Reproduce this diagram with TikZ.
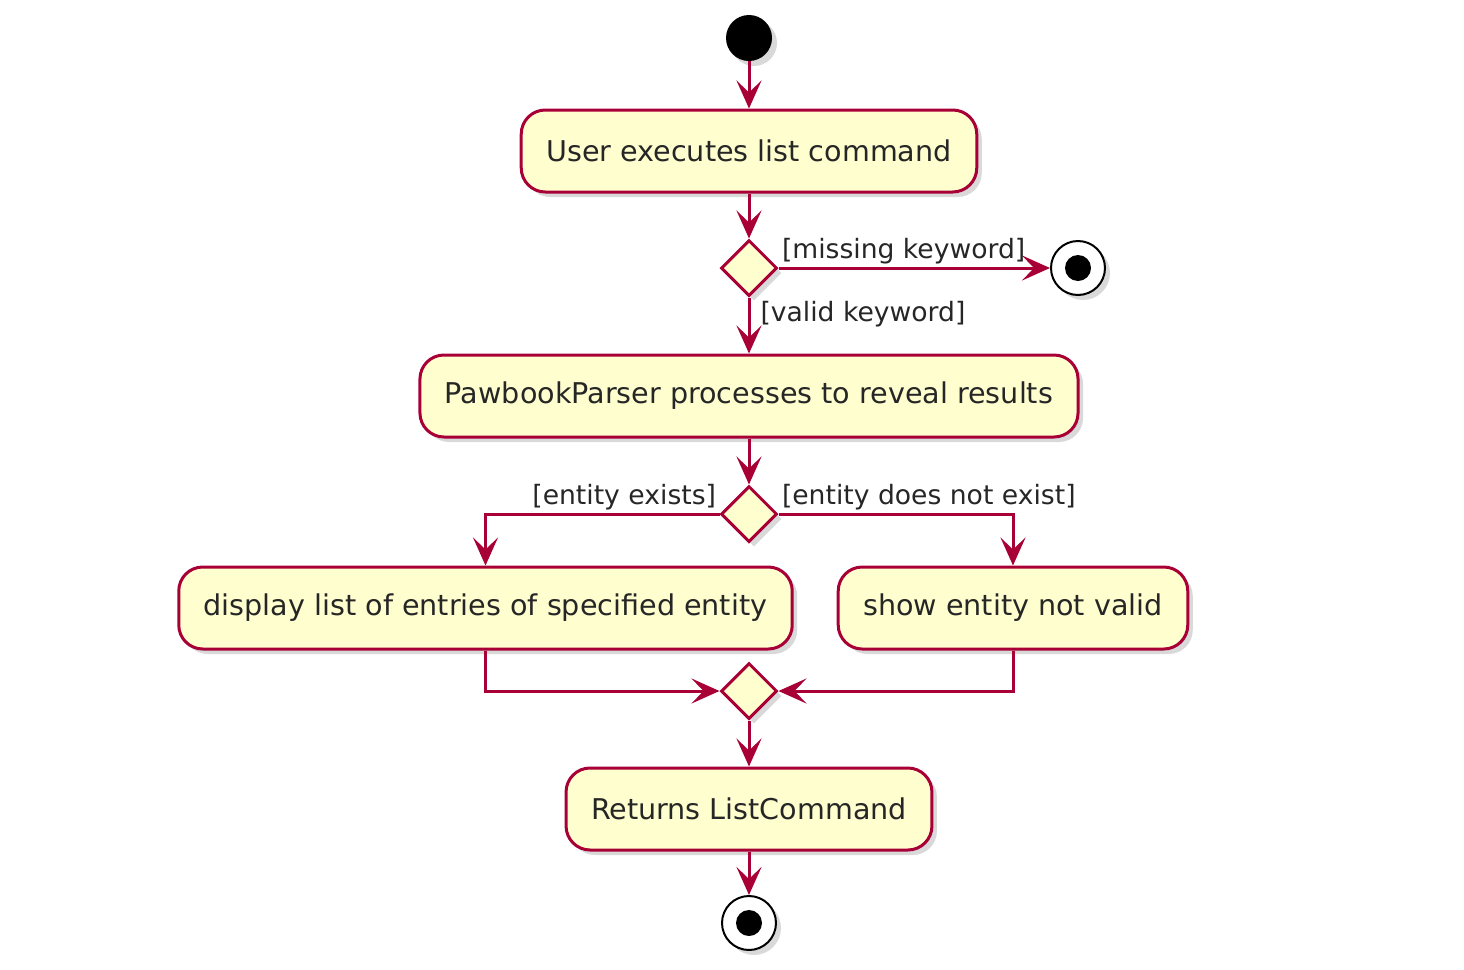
\documentclass[tikz,border=0pt]{standalone}
\usepackage{fontspec}
\setmainfont{DejaVu Sans}
\usepackage{xcolor}
\usetikzlibrary{shapes.geometric, positioning, arrows.meta, shadows}

\definecolor{umlred}{HTML}{A80036}
\definecolor{umlfill}{HTML}{FEFECE}

\begin{document}
\begin{tikzpicture}[x=0.5pt, y=-0.5pt,
        shade/.style={drop shadow={shadow xshift=2.5pt, shadow yshift=-2.5pt, opacity=0.3}},
        action/.style={draw=umlred, fill=umlfill, rounded corners=12pt, line width=1.5pt, minimum height=41pt, inner xsep=12.5pt, font=\fontsize{14.3}{17}\selectfont, text=black!85, shade},
        decision/.style={diamond, draw=umlred, fill=umlfill, line width=1.5pt, minimum width=28pt, minimum height=28pt, inner sep=0pt, shade},
        startstate/.style={circle, fill=black, minimum size=23pt, inner sep=0pt, shade},
        endstate/.style={circle, draw=black, fill=white, line width=1pt, minimum size=27pt, inner sep=0pt, shade, path picture={\fill[black] (path picture bounding box.center) circle (6.5pt);}},
        flow/.style={draw=umlred, line width=1.5pt, -{Stealth[length=14pt, width=12.5pt, inset=6pt]}},
        guard/.style={font=\fontsize{13.3}{16}\selectfont, text=black!85, inner sep=1pt}]
        \useasboundingbox (0, 0) rectangle (1464, 970);

        \node[startstate] (start) at (749, 38) {};
        \node[action] (user) at (749, 151) {User executes list command};
        \node[decision] (keyword) at (749, 268) {};
        \node[endstate] (abort) at (1078, 268) {};
        \node[action] (parser) at (749, 396) {PawbookParser processes to reveal results};
        \node[decision] (entity) at (749, 514) {};
        \node[action] (display) at (485.5, 608) {display list of entries of specified entity};
        \node[action] (invalid) at (1013, 608) {show entity not valid};
        \node[decision] (merge) at (749, 691) {};
        \node[action] (result) at (749, 809) {Returns ListCommand};
        \node[endstate] (stop) at (749, 923) {};

        \draw[flow] (start) to (user);
        \draw[flow] (user) to (keyword);
        \draw[flow] (keyword.east) to node[guard, pos=0, anchor=south west] {[missing keyword]} (abort);
        \draw[flow] (keyword.south) to node[guard, pos=0.3, anchor=west, xshift=4pt] {[valid keyword]} (parser);
        \draw[flow] (parser) to (entity);
        \draw[flow] (entity.west) -| node[guard, pos=0, anchor=south east] {[entity exists]} (display);
        \draw[flow] (entity.east) -| node[guard, pos=0, anchor=south west] {[entity does not exist]} (invalid);
        \draw[flow] (display) |- (merge.west);
        \draw[flow] (invalid) |- (merge.east);
        \draw[flow] (merge) to (result);
        \draw[flow] (result) to (stop);
    \end{tikzpicture}
\end{document}
